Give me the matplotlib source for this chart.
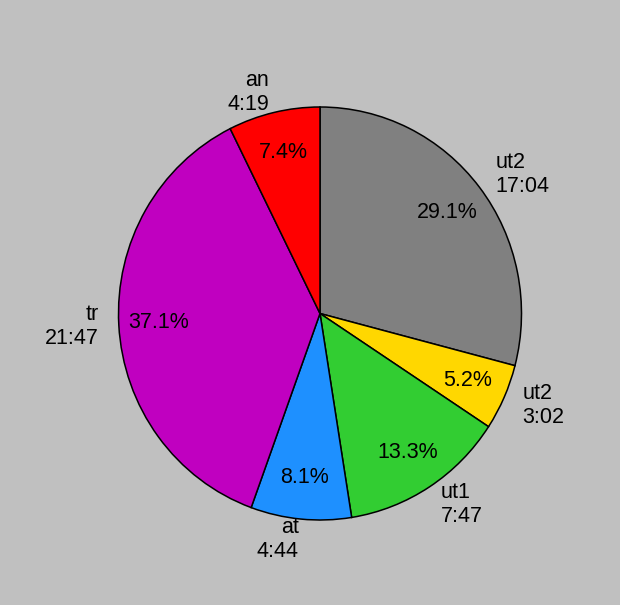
import matplotlib
matplotlib.use("Agg")
import matplotlib.pyplot as plt

names = ["ut2", "ut2", "ut1", "at", "tr", "an"]
times = ["17:04", "3:02", "7:47", "4:44", "21:47", "4:19"]
colors = ["#808080", "#ffd700", "#32cd32", "#1e90ff", "#c000c0", "#ff0000"]

minutes = [int(t.split(":")[0]) * 60 + int(t.split(":")[1]) for t in times]
labels = [f"{n}\n{t}" for n, t in zip(names, times)]

plt.rcParams['font.family'] = ['Liberation Sans', 'DejaVu Sans']

fig = plt.figure(figsize=(6.2, 6.05), dpi=100, facecolor="#c0c0c0")
W, H = 620, 605
cx, cy = 320, 313.5
rx, ry = 201.5, 206.5
aw, ah = 2.5 * rx, 2.5 * ry
ax = fig.add_axes([(cx - aw / 2) / W, (H - cy - ah / 2) / H, aw / W, ah / H])
ax.set_facecolor("#c0c0c0")

wedges, texts, autotexts = ax.pie(
    minutes, labels=labels, colors=colors, startangle=90, counterclock=False,
    autopct="%1.1f%%", pctdistance=0.8, labeldistance=1.1,
    wedgeprops=dict(edgecolor="black", linewidth=1.1),
    textprops=dict(fontsize=15.5, color="black"),
)
ax.set_aspect("auto")
ax.set_xlim(-1.25, 1.25)
ax.set_ylim(-1.25, 1.25)

fig.savefig("out.png", dpi=100, facecolor=fig.get_facecolor())
